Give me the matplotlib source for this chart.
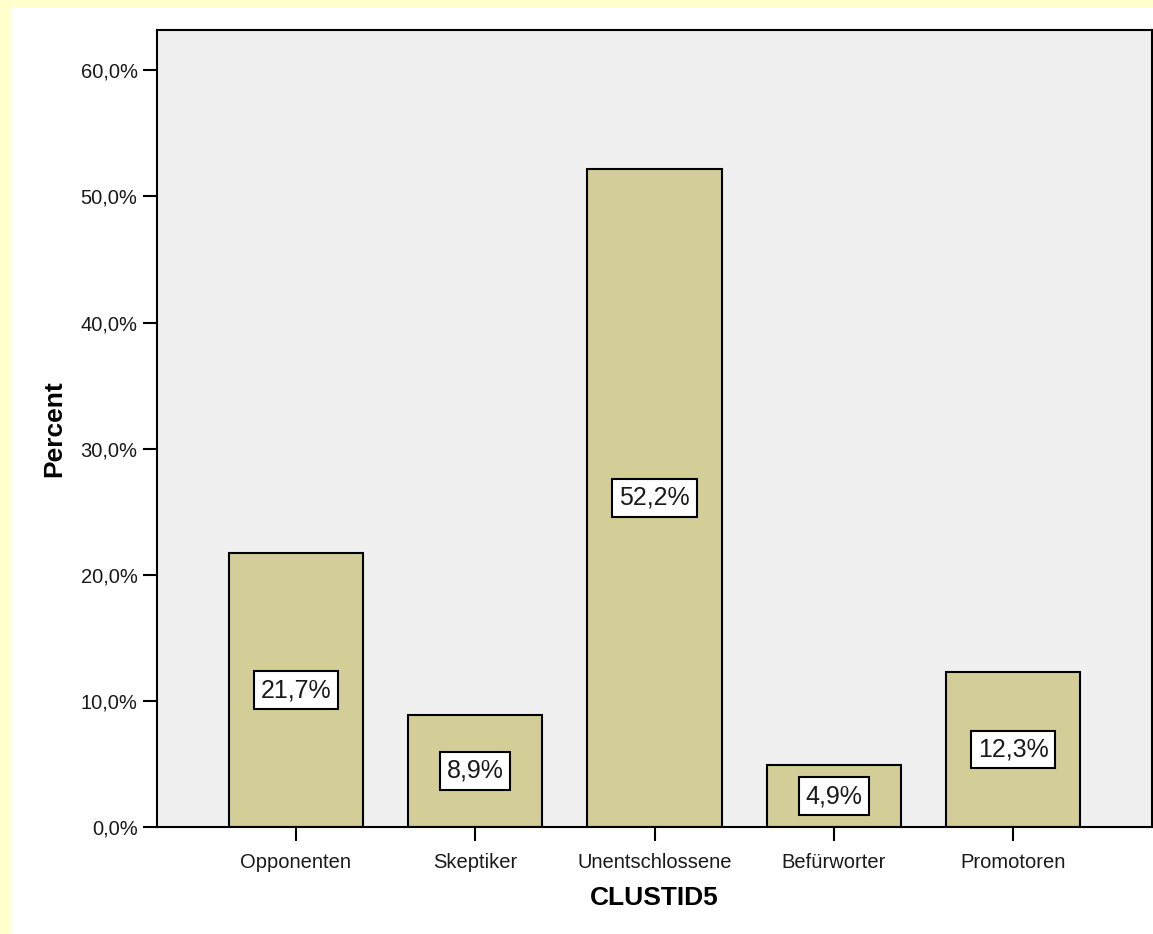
import matplotlib.pyplot as plt
import matplotlib.patches as mpatches

plt.rcParams['font.family'] = ['Liberation Sans', 'DejaVu Sans']

categories = ['Opponenten', 'Skeptiker', 'Unentschlossene', 'Befürworter', 'Promotoren']
percent = [21.7, 8.9, 52.2, 4.9, 12.3]
yticks = [0, 10, 20, 30, 40, 50, 60]

fig = plt.figure(figsize=(11.53, 9.34), dpi=100)
fig.patch.set_facecolor('#FFFFCC')
# white chart area inside the yellow frame
fig.patches.append(mpatches.Rectangle((11 / 1153, 0), 1 - 11 / 1153, 1 - 7 / 934,
                                      transform=fig.transFigure, facecolor='white',
                                      edgecolor='none', zorder=-10))

ax = fig.add_axes([157 / 1153, 1 - 827 / 934, (1152 - 157) / 1153, (827 - 30) / 934])
ax.set_zorder(1)
ax.set_facecolor('#F0F0F0')

x = range(len(categories))
ax.bar(x, percent, width=0.75, color='#D3CE97', edgecolor='black', linewidth=1.5, zorder=2)

for i, v in zip(x, percent):
    ax.text(i, v / 2, f'{v:.1f}%'.replace('.', ','), ha='center', va='center',
            fontsize=18, color='#1a1a1a', zorder=3,
            bbox=dict(boxstyle='square,pad=0.27', facecolor='white', edgecolor='black', linewidth=1.5))

ax.set_xlim(-0.774, 4.774)
ax.set_ylim(0, 63.2)
ax.set_yticks(yticks)
ax.set_yticklabels([f'{t:.1f}%'.replace('.', ',') for t in yticks])
ax.set_xticks(list(x))
ax.set_xticklabels(categories)
ax.tick_params(axis='both', direction='out', length=10, width=1.5, labelsize=14.5,
               labelcolor='#1a1a1a')
ax.tick_params(axis='x', pad=9)
ax.tick_params(axis='y', pad=4)

for s in ax.spines.values():
    s.set_linewidth(1.5)
    s.set_color('black')

ax.set_ylabel('Percent', fontsize=19, fontweight='bold', labelpad=10)
ax.set_xlabel('CLUSTID5', fontsize=19, fontweight='bold', labelpad=10)

fig.savefig('out.png', dpi=100, facecolor=fig.get_facecolor())
